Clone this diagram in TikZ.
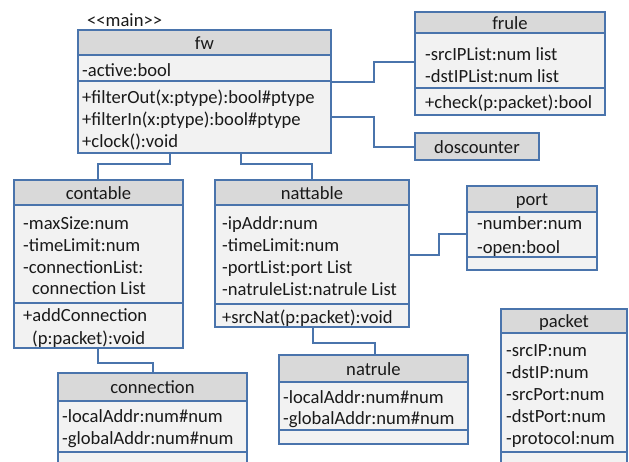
\documentclass[tikz,border=0pt]{standalone}
\usepackage{fontspec}
\setmainfont{Carlito}
\usetikzlibrary{fit,calc}
\definecolor{umlblue}{HTML}{4A74AC}
\definecolor{hdr}{HTML}{D9D9D9}
\definecolor{bdy}{HTML}{F2F2F2}
\definecolor{ink}{HTML}{1A1A1A}
\tikzset{
  boxline/.style={draw=umlblue, line width=1.6pt},
  conn/.style={draw=umlblue, line width=1.6pt},
  txt/.style={anchor=base west, inner sep=0pt, font=\fontsize{18.6}{22}\selectfont, text=ink},
  ttl/.style={anchor=base, inner sep=0pt, font=\fontsize{18.6}{22}\selectfont, text=ink},
}
% name, title, x1, y1, x2, y2, header bottom, attribute bottom
\newcommand\umlclass[8]{%
  \fill[bdy] (#3,#4) rectangle (#5,#6);
  \fill[hdr] (#3,#4) rectangle (#5,#7);
  \draw[boxline] (#3,#7) -- (#5,#7);
  \ifx&#8&\else\draw[boxline] (#3,#8) -- (#5,#8);\fi
  \node[boxline, fit={(#3,#4) (#5,#6)}, inner sep=0pt] (#1) {};
  \node[ttl] (#1-t) at ({(#3+#5)/2},{(#4+#7)/2+6.5}) {#2};
}
\newcommand\umlline[4]{\node[txt] (#1) at (#2,{#3+6.5}) {#4};}
\begin{document}
\begin{tikzpicture}[x=1pt,y=-1pt]
\useasboundingbox (0,0) rectangle (629,461);
\clip (0,0) rectangle (629,461);
\fill[white] (0,0) rectangle (629,461);

\umlclass{fw}{fw}{78}{30}{331}{153}{55}{81}
\node[txt] (stereo) at (87,26) {<\kern0pt<main>\kern0pt>};
\umlline{fw1}{82}{70}{-active:bool}
\umlline{fw2}{82}{97}{+filterOut(x:ptype):bool\#ptype}
\umlline{fw3}{82}{119}{+filterIn(x:ptype):bool\#ptype}
\umlline{fw4}{82}{141}{+clock():void}

\umlclass{frule}{frule}{415}{12}{605}{115}{33}{88}
\umlline{fr1}{425}{54}{-srcIPList:num list}
\umlline{fr2}{425}{76}{-dstIPList:num list}
\umlline{fr3}{425}{102}{+check(p:packet):bool}

\umlclass{dos}{doscounter}{415}{133}{539}{160}{160}{}

\umlclass{contable}{contable}{14}{180}{183}{348}{205}{303}
\umlline{ct1}{23}{223}{-maxSize:num}
\umlline{ct2}{23}{245}{-timeLimit:num}
\umlline{ct3}{23}{267}{-connectionList:}
\umlline{ct4}{32}{288}{connection List}
\umlline{ct5}{23}{315}{+addConnection}
\umlline{ct6}{32}{338}{(p:packet):void}

\umlclass{nattable}{nattable}{215}{180}{409}{327}{205}{304}
\umlline{nt1}{222}{223}{-ipAddr:num}
\umlline{nt2}{222}{245}{-timeLimit:num}
\umlline{nt3}{222}{267}{-portList:port List}
\umlline{nt4}{222}{289}{-natruleList:natrule List}
\umlline{nt5}{222}{317}{+srcNat(p:packet):void}

\umlclass{port}{port}{467}{186}{597}{270}{212}{257}
\umlline{pt1}{477}{223}{-number:num}
\umlline{pt2}{477}{247}{-open:bool}

\umlclass{packet}{packet}{501}{309}{627}{475}{333}{452}
\umlline{pk1}{506}{350}{-srcIP:num}
\umlline{pk2}{506}{372}{-dstIP:num}
\umlline{pk3}{506}{394}{-srcPort:num}
\umlline{pk4}{506}{416}{-dstPort:num}
\umlline{pk5}{506}{438}{-protocol:num}

\umlclass{natrule}{natrule}{279}{355}{468}{444}{382}{430}
\umlline{nr1}{283}{397}{-localAddr:num\#num}
\umlline{nr2}{283}{418}{-globalAddr:num\#num}

\umlclass{connection}{connection}{58}{373}{247}{475}{401}{452}
\umlline{cn1}{62}{416}{-localAddr:num\#num}
\umlline{cn2}{62}{438}{-globalAddr:num\#num}

% connectors
\draw[conn] (fw.south -| 170,0) -- ++(0,10) -| (contable.north -| 98,0);
\draw[conn] (fw.south -| 241,0) -- ++(0,10) -| (nattable.north -| 312,0);
\draw[conn] (fw.east |- 0,82) -- ++(42,0) |- (frule.west |- 0,62);
\draw[conn] (fw.east |- 0,117) -- ++(42,0) |- (dos.west |- 0,147);
\draw[conn] (nattable.east |- 0,255) -- ++(29,0) |- (port.west |- 0,234);
\draw[conn] (nattable.south -| 313,0) -- ++(0,15) -| (natrule.north -| 375,0);
\draw[conn] (contable.south -| 98,0) -- ++(0,14) -| (connection.north -| 153,0);
\end{tikzpicture}
\end{document}
